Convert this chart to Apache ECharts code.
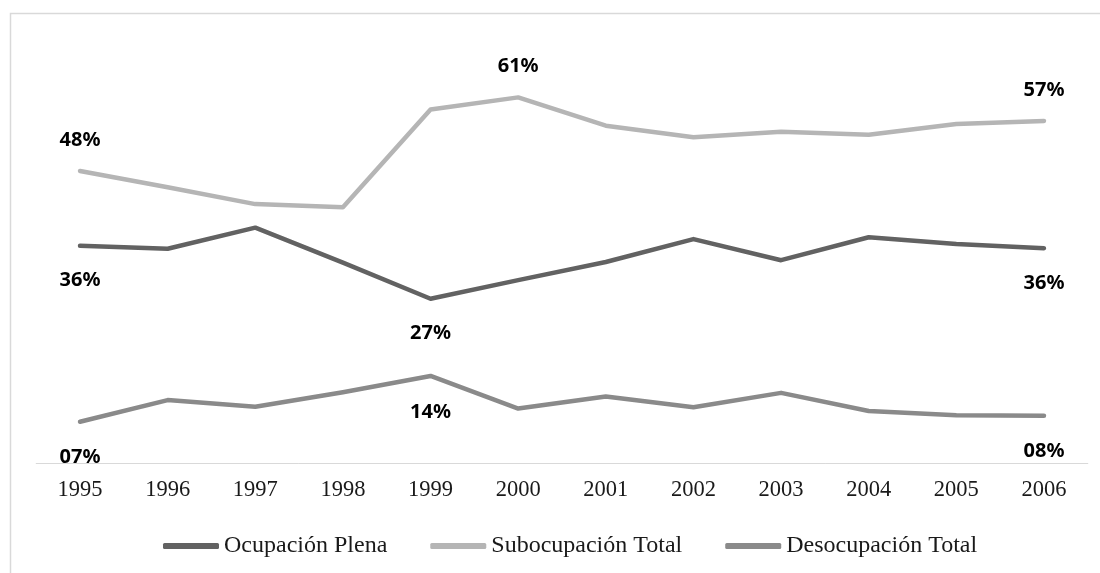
<!DOCTYPE html>
<html>
<head>
<meta charset="utf-8">
<script src="https://cdn.jsdelivr.net/npm/echarts@6/dist/echarts.min.js"></script>
<style>
html,body{margin:0;padding:0;background:#fff;}
#c{width:1100px;height:573px;}
</style>
</head>
<body>
<div id="c"></div>
<script>
const years = ['1995','1996','1997','1998','1999','2000','2001','2002','2003','2004','2005','2006'];
const seriesNames = ['Ocupación Plena','Subocupación Total','Desocupación Total'];
const ocupacionPlena = [0.360,0.355,0.390,0.332,0.272,0.303,0.333,0.371,0.336,0.374,0.363,0.356];
const subocupacionTotal = [0.484,0.457,0.429,0.424,0.586,0.606,0.559,0.540,0.549,0.544,0.562,0.567];
const desocupacionTotal = [0.068,0.104,0.093,0.117,0.144,0.090,0.110,0.092,0.116,0.086,0.079,0.078];
// indices of points that carry a value label
const ocupacionLabelIdx = [0,4,11];
const subocupacionLabelIdx = [0,5,11];
const desocupacionLabelIdx = [0,4,11];

const colors = ['#626262','#b5b5b5','#8a8a8a'];

function fmt(v){
  const n = Math.round(v*100);
  return (n < 10 ? '0' + n : '' + n) + '%';
}
function build(values, labelIdx, offsetY){
  return values.map((v,i) => {
    if (labelIdx.indexOf(i) >= 0) {
      return {value: v, label: {show: true, position: 'inside', offset: [0, offsetY],
        formatter: fmt(v), fontFamily: 'Noto Sans', fontWeight: 'bold', fontSize: 20, color: '#000'}};
    }
    return {value: v};
  });
}
function mkSeries(name, values, labelIdx, offsetY, color){
  return {
    name: name, type: 'line', data: build(values, labelIdx, offsetY),
    color: color,
    symbol: 'circle', symbolSize: 0, showSymbol: true,
    itemStyle: {color: color},
    lineStyle: {color: color, width: 4.5, cap: 'round', join: 'round'},
    label: {show: false},
    emphasis: {disabled: true},
    z: 3
  };
}

const chart = echarts.init(document.getElementById('c'), null, {renderer: 'canvas'});
chart.setOption({
  animation: false,
  backgroundColor: '#ffffff',
  graphic: [{
    type: 'rect', left: 8, top: 11, z: -10,
    shape: {x: 0, y: 0, width: 1300, height: 800},
    style: {fill: 'none', stroke: '#d9d9d9', lineWidth: 1.5}
  }],
  grid: {left: 36.2, right: 12.2, top: 40.7, bottom: 110.2, containLabel: false},
  xAxis: {
    type: 'category', data: years, boundaryGap: true,
    axisLine: {show: true, lineStyle: {color: '#d9d9d9', width: 1}},
    axisTick: {show: false},
    axisLabel: {fontFamily: 'Liberation Serif', fontSize: 22.5, color: '#1a1a1a', margin: 16, interval: 0}
  },
  yAxis: {
    type: 'value', min: 0, max: 0.7, show: false,
    splitLine: {show: false}
  },
  legend: {
    left: 158, top: 529,
    itemWidth: 56, itemHeight: 6, itemGap: 43,
    icon: 'roundRect',
    textStyle: {fontFamily: 'Liberation Serif', fontSize: 24, color: '#1a1a1a'},
    data: seriesNames
  },
  series: [
    mkSeries(seriesNames[0], ocupacionPlena, ocupacionLabelIdx, 35, colors[0]),
    mkSeries(seriesNames[1], subocupacionTotal, subocupacionLabelIdx, -31, colors[1]),
    mkSeries(seriesNames[2], desocupacionTotal, desocupacionLabelIdx, 36, colors[2])
  ]
});
</script>
</body>
</html>
